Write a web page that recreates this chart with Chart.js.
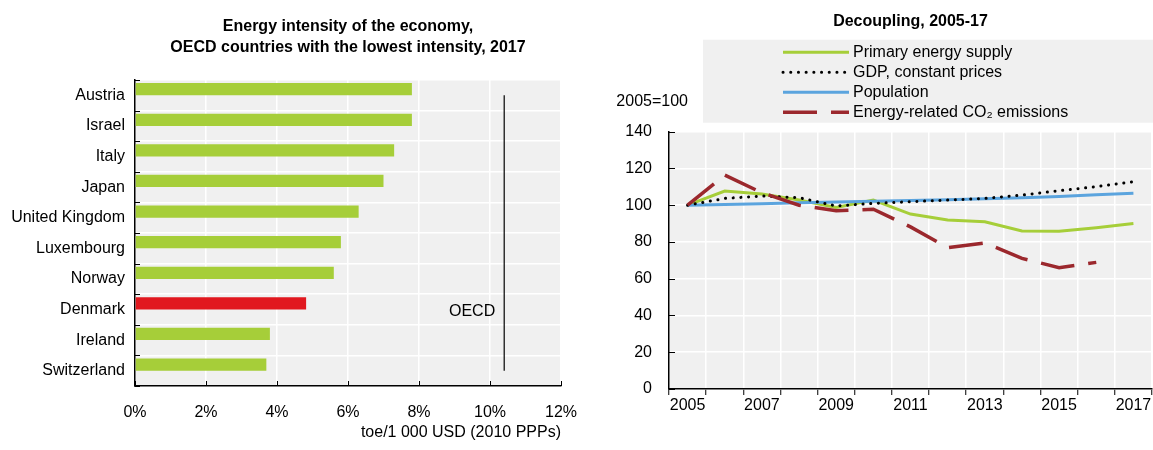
<!DOCTYPE html>
<html>
<head>
<meta charset="utf-8">
<script src="https://cdn.jsdelivr.net/npm/chart.js@4.4.1/dist/chart.umd.min.js"></script>
<style>
  html, body { margin: 0; padding: 0; background: #fff; }
  #wrap { position: relative; width: 1153px; height: 450px; }
  #left { position: absolute; left: 0; top: 0; }
  #right { position: absolute; left: 580px; top: 0; }
</style>
</head>
<body>
<div id="wrap">
  <canvas id="left" width="580" height="450"></canvas>
  <canvas id="right" width="573" height="450"></canvas>
</div>
<script>
// left panel: energy intensity 2017
const countries = ['Austria', 'Israel', 'Italy', 'Japan', 'United Kingdom', 'Luxembourg', 'Norway', 'Denmark', 'Ireland', 'Switzerland'];
const intensity = [7.8, 7.8, 7.3, 7.0, 6.3, 5.8, 5.6, 4.82, 3.8, 3.7];
const oecdAverage = [10.4, 10.4, 10.4, 10.4, 10.4, 10.4, 10.4, 10.4, 10.4, 10.4];
const highlight = 'Denmark';

// right panel: decoupling, 2005=100
const years = ['2005', '2006', '2007', '2008', '2009', '2010', '2011', '2012', '2013', '2014', '2015', '2016', '2017'];
const primaryEnergy = [100, 107.7, 106.1, 102.8, 98.8, 102.8, 95.2, 92.0, 91.0, 86.0, 85.8, 87.8, 90.0];
const gdp = [100, 103.7, 105.0, 104.1, 99.6, 101.0, 101.9, 102.8, 103.7, 105.5, 107.9, 110.1, 112.8];
const population = [100, 100.4, 100.8, 101.3, 101.8, 102.2, 102.6, 103.0, 103.5, 104.0, 104.8, 105.7, 106.5];
const co2 = [100, 116.4, 106.8, 100.0, 97.0, 97.8, 88.2, 76.9, 79.5, 71.1, 66.0, 68.9, null];

const FONT = '"Liberation Sans", Arial, sans-serif';
const GREEN = '#a6ce39';
const RED = '#e1181f';
const BG = '#f0f0f0';

Chart.defaults.font.family = FONT;
Chart.defaults.font.size = 16;
Chart.defaults.color = '#000';

// grey plot area
const plotBg = {
  id: 'plotBg',
  beforeDraw(chart, args, opts) {
    const { ctx, chartArea: a } = chart;
    ctx.save();
    ctx.fillStyle = opts.color || BG;
    ctx.fillRect(a.left, a.top, a.width, a.height);
    ctx.restore();
  }
};

// short tick marks pointing into the plot
const innerTicks = {
  id: 'innerTicks',
  afterDraw(chart, args, opts) {
    const { ctx, chartArea: a } = chart;
    const len = opts.length || 5;
    ctx.save();
    ctx.strokeStyle = '#000';
    ctx.lineWidth = 1;
    ctx.beginPath();
    (opts.scales || []).forEach(id => {
      const s = chart.scales[id];
      let pos = [];
      if (s.type === 'category') {
        const n = s.ticks.length;
        const start = s.isHorizontal() ? a.left : a.top;
        const step = (s.isHorizontal() ? a.width : a.height) / n;
        for (let i = 0; i <= n; i++) pos.push(start + i * step);
      } else {
        pos = s.ticks.map(t => s.getPixelForValue(t.value));
      }
      pos.forEach(p => {
        const q = Math.round(p) + 0.5;
        if (s.isHorizontal()) {
          ctx.moveTo(q, a.bottom);
          ctx.lineTo(q, a.bottom - len);
        } else {
          ctx.moveTo(a.left, q);
          ctx.lineTo(a.left + len, q);
        }
      });
    });
    ctx.stroke();
    ctx.restore();
  }
};

// "OECD" tag next to the average line
const oecdTag = {
  id: 'oecdTag',
  afterDatasetsDraw(chart, args, opts) {
    const meta = chart.getDatasetMeta(0);
    const pt = meta.data[countries.indexOf(highlight)];
    if (!pt) return;
    const ctx = chart.ctx;
    ctx.save();
    ctx.font = '16px ' + FONT;
    ctx.fillStyle = '#000';
    ctx.textAlign = 'right';
    ctx.textBaseline = 'middle';
    ctx.fillText(opts.text, pt.x - 9, pt.y + 2);
    ctx.restore();
  }
};

// legend in a grey box above the plot, one row per series
const boxLegend = {
  id: 'boxLegend',
  afterDraw(chart, args, opts) {
    const { ctx, chartArea: a } = chart;
    const x0 = a.left + 34, y0 = a.top - 92, y1 = a.top - 9;
    ctx.save();
    ctx.fillStyle = BG;
    ctx.fillRect(x0, y0, chart.width - x0, y1 - y0);
    ctx.font = '16px ' + FONT;
    ctx.textBaseline = 'middle';
    chart.data.datasets.forEach((ds, i) => {
      const y = y0 + 12.5 + i * 20;
      ctx.strokeStyle = ds.borderColor;
      ctx.lineWidth = ds.borderWidth;
      ctx.lineCap = ds.borderCapStyle || 'butt';
      ctx.setLineDash(ds.borderDash || []);
      ctx.beginPath();
      ctx.moveTo(x0 + 80, y);
      ctx.lineTo(x0 + 146, y);
      ctx.stroke();
      ctx.setLineDash([]);
      ctx.fillStyle = '#000';
      ctx.textAlign = 'left';
      ctx.fillText(ds.label, x0 + 150, y);
    });
    ctx.textAlign = 'right';
    ctx.fillText(opts.unit, a.left + 19, a.top - 30);
    ctx.restore();
  }
};

const axisLine = { color: '#000', width: 1.5 };
const whiteGrid = { color: '#fff', lineWidth: 1.5, drawTicks: false };
const titleFont = { size: 16, weight: 'bold', lineHeight: 1.3 };

new Chart(document.getElementById('left'), {
  type: 'bar',
  data: {
    labels: countries,
    datasets: [
      {
        type: 'line',
        label: 'OECD',
        data: oecdAverage,
        borderColor: '#000',
        borderWidth: 1.2,
        pointRadius: 0
      },
      {
        label: 'Energy intensity',
        data: intensity,
        backgroundColor: countries.map(c => c === highlight ? RED : GREEN),
        categoryPercentage: 0.8,
        barPercentage: 1.0
      },
      {
        // empty slot so the bars sit in the upper half of each row
        label: '',
        data: [],
        categoryPercentage: 0.8,
        barPercentage: 1.0
      }
    ]
  },
  options: {
    indexAxis: 'y',
    responsive: false,
    animation: false,
    layout: { padding: { left: 0, right: 3, top: 0, bottom: 0 } },
    plugins: {
      legend: { display: false },
      tooltip: { enabled: false },
      title: {
        display: true,
        fullSize: false,
        text: ['Energy intensity of the economy,', 'OECD countries with the lowest intensity, 2017'],
        font: titleFont,
        color: '#000',
        padding: { top: 16, bottom: 22.4 }
      },
      plotBg: { color: BG },
      innerTicks: { scales: ['x', 'y'], length: 5 },
      oecdTag: { text: 'OECD' }
    },
    scales: {
      x: {
        min: 0,
        max: 12,
        ticks: { stepSize: 2, padding: 17, callback: v => v + '%' },
        grid: whiteGrid,
        border: axisLine,
        title: {
          display: true,
          text: 'toe/1 000 USD (2010 PPPs)',
          align: 'end',
          padding: { top: 0, bottom: 8 }
        },
        afterFit(s) {
          s.height = 64;
          s.paddingRight = 19; // room for the "12%" label only
        }
      },
      y: {
        ticks: { padding: 10 },
        grid: whiteGrid,
        border: axisLine,
        afterFit(s) { s.width = 135; }
      }
    }
  },
  plugins: [plotBg, innerTicks, oecdTag]
});

new Chart(document.getElementById('right'), {
  type: 'line',
  data: {
    labels: years,
    datasets: [
      { label: 'Primary energy supply', data: primaryEnergy, borderColor: GREEN, borderWidth: 3, order: 3 },
      { label: 'GDP, constant prices', data: gdp, borderColor: '#000', borderWidth: 3, borderDash: [0.1, 7.6], borderCapStyle: 'round', order: 1 },
      { label: 'Population', data: population, borderColor: '#5ba4de', borderWidth: 3, order: 2 },
      { label: 'Energy-related CO\u2082 emissions', data: co2, borderColor: '#9b282d', borderWidth: 3.5, borderDash: [34, 14], order: 0 }
    ]
  },
  options: {
    responsive: false,
    animation: false,
    elements: { point: { radius: 0 }, line: { tension: 0, fill: false } },
    layout: { padding: { left: 0, right: 1, top: 0, bottom: 0 } },
    plugins: {
      legend: { display: false },
      tooltip: { enabled: false },
      title: {
        display: true,
        fullSize: false,
        text: 'Decoupling, 2005-17',
        font: titleFont,
        color: '#000',
        padding: { top: 11, bottom: 99.9 }
      },
      plotBg: { color: BG },
      innerTicks: { scales: ['y'], length: 6 },
      boxLegend: { unit: '2005=100' }
    },
    scales: {
      x: {
        offset: true,
        grid: { offset: true, color: '#fff', lineWidth: 1.5, tickColor: '#000', tickLength: 6, tickWidth: 1 },
        border: axisLine,
        ticks: {
          autoSkip: false,
          maxRotation: 0,
          padding: 1,
          callback(v, i) { return i % 2 === 0 ? this.getLabelForValue(v) : ''; }
        },
        afterFit(s) { s.height = 61; }
      },
      y: {
        min: 0,
        max: 140,
        ticks: { stepSize: 20, padding: 17 },
        grid: whiteGrid,
        border: axisLine,
        afterFit(s) { s.width = 89; }
      }
    }
  },
  plugins: [plotBg, innerTicks, boxLegend]
});
</script>
</body>
</html>
